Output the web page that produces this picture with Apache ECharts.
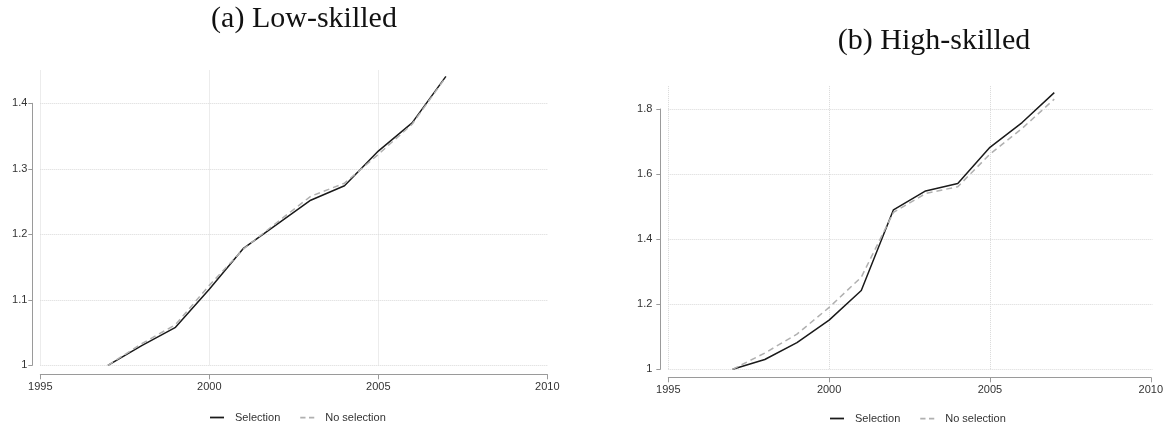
<!DOCTYPE html>
<html>
<head>
<meta charset="utf-8">
<script src="https://cdn.jsdelivr.net/npm/echarts@6/dist/echarts.min.js"></script>
<style>
  html, body { margin: 0; padding: 0; background: #fff; }
  #chart { width: 1166px; height: 425px; }
</style>
</head>
<body>
<div id="chart"></div>
<script>
const years = [1997, 1998, 1999, 2000, 2001, 2002, 2003, 2004, 2005, 2006, 2007]

// (a) Low-skilled
const lowSelection = [1.0, 1.03, 1.058, 1.116, 1.178, 1.215, 1.252, 1.274, 1.327, 1.370, 1.441]
const lowNoSelection = [1.0, 1.033, 1.062, 1.122, 1.177, 1.218, 1.258, 1.278, 1.322, 1.368, 1.440]

// (b) High-skilled
const highSelection = [1.0, 1.03, 1.082, 1.151, 1.242, 1.490, 1.548, 1.571, 1.682, 1.758, 1.850]
const highNoSelection = [1.0, 1.05, 1.108, 1.190, 1.283, 1.482, 1.540, 1.561, 1.661, 1.740, 1.830]

const xTicks = { min: 1995, max: 2010, interval: 5 }
const lowTicks = { min: 1, max: 1.4, interval: 0.1 }
const highTicks = { min: 1, max: 1.8, interval: 0.2 }

const pairs = (vals) => years.map((y, i) => [y, vals[i]])

const sansFont = "'Liberation Sans', Arial, sans-serif"
const serifFont = "'Liberation Serif', 'DejaVu Serif', serif"
const axisGray = "#9a9a9a"
const gridGray = "#d9d9d9"
const solidColor = "#1a1a1a"
const dashColor = "#b0b0b0"

const chart = echarts.init(document.getElementById("chart"), null, { renderer: "canvas" })

function visibleX(gridIndex, offset) {
  return {
    type: "value", gridIndex, ...xTicks, offset,
    axisLine: { show: true, lineStyle: { color: axisGray, width: 1 } },
    axisTick: { show: true, length: 5, lineStyle: { color: axisGray } },
    axisLabel: { color: "#333", fontSize: 11, fontFamily: sansFont, margin: 7, formatter: (v) => String(v) },
    splitLine: { show: true, showMaxLine: false, lineStyle: { type: "dotted", color: gridGray } },
  }
}
function hiddenX(gridIndex) {
  return {
    type: "value", gridIndex, ...xTicks,
    axisLine: { show: false }, axisTick: { show: false }, axisLabel: { show: false }, splitLine: { show: false },
  }
}
function visibleY(gridIndex, ticks, margin) {
  return {
    type: "value", gridIndex, ...ticks, offset: 8,
    axisLine: { show: true, lineStyle: { color: axisGray, width: 1 } },
    axisTick: { show: true, length: 4, lineStyle: { color: axisGray } },
    axisLabel: { color: "#333", fontSize: 11, fontFamily: sansFont, margin },
    splitLine: { show: true, lineStyle: { type: "dotted", color: gridGray } },
  }
}
function hiddenY(gridIndex, min, max) {
  return {
    type: "value", gridIndex, min, max,
    axisLine: { show: false }, axisTick: { show: false }, axisLabel: { show: false }, splitLine: { show: false },
  }
}

function lineSeries(name, xAxisIndex, yAxisIndex, vals, dashed) {
  return {
    name, type: "line", xAxisIndex, yAxisIndex,
    data: pairs(vals),
    symbol: "none",
    z: dashed ? 3 : 2,
    lineStyle: dashed
      ? { color: dashColor, width: 1.5, type: [6, 4] }
      : { color: solidColor, width: 1.5 },
    itemStyle: { color: dashed ? dashColor : solidColor },
    animation: false,
  }
}

function legendAt(left, top) {
  return {
    left, top,
    orient: "horizontal",
    itemWidth: 14, itemHeight: 2, itemGap: 20,
    data: [
      { name: "Selection", icon: "path://M0,0h16v2h-16z" },
      { name: "No selection", icon: "path://M0,0h6v2h-6zM10,0h6v2h-6z" },
    ],
    textStyle: { color: "#333", fontSize: 11, fontFamily: sansFont, padding: [0, 0, 0, 6] },
    selectedMode: false,
  }
}

chart.setOption({
  backgroundColor: "#fff",
  animation: false,
  title: [
    { text: "(a) Low-skilled", left: 299, top: -1, textAlign: "center",
      textStyle: { fontFamily: serifFont, fontSize: 30, fontWeight: "normal", color: "#111" } },
    { text: "(b) High-skilled", left: 929, top: 21, textAlign: "center",
      textStyle: { fontFamily: serifFont, fontSize: 30, fontWeight: "normal", color: "#111" } },
  ],
  legend: [legendAt(205, 407), legendAt(825, 408)],
  grid: [
    // left: data area (reaches above the top tick) and tick-range area
    { left: 40.3, width: 507, top: 70.5, height: 294.8 },
    { left: 40.3, width: 507, top: 103.3, height: 262 },
    // right
    { left: 668.3, width: 484.4, top: 86.1, height: 283.2 },
    { left: 668.3, width: 484.4, top: 109, height: 260.3 },
  ],
  xAxis: [visibleX(0, 9), hiddenX(1), visibleX(2, 8), hiddenX(3)],
  yAxis: [
    hiddenY(0, 1, 1.45),
    visibleY(1, lowTicks, 5),
    hiddenY(2, 1, 1.87),
    visibleY(3, highTicks, 8),
  ],
  series: [
    lineSeries("Selection", 0, 0, lowSelection, false),
    lineSeries("No selection", 0, 0, lowNoSelection, true),
    lineSeries("Selection", 2, 2, highSelection, false),
    lineSeries("No selection", 2, 2, highNoSelection, true),
  ],
})
</script>
</body>
</html>
